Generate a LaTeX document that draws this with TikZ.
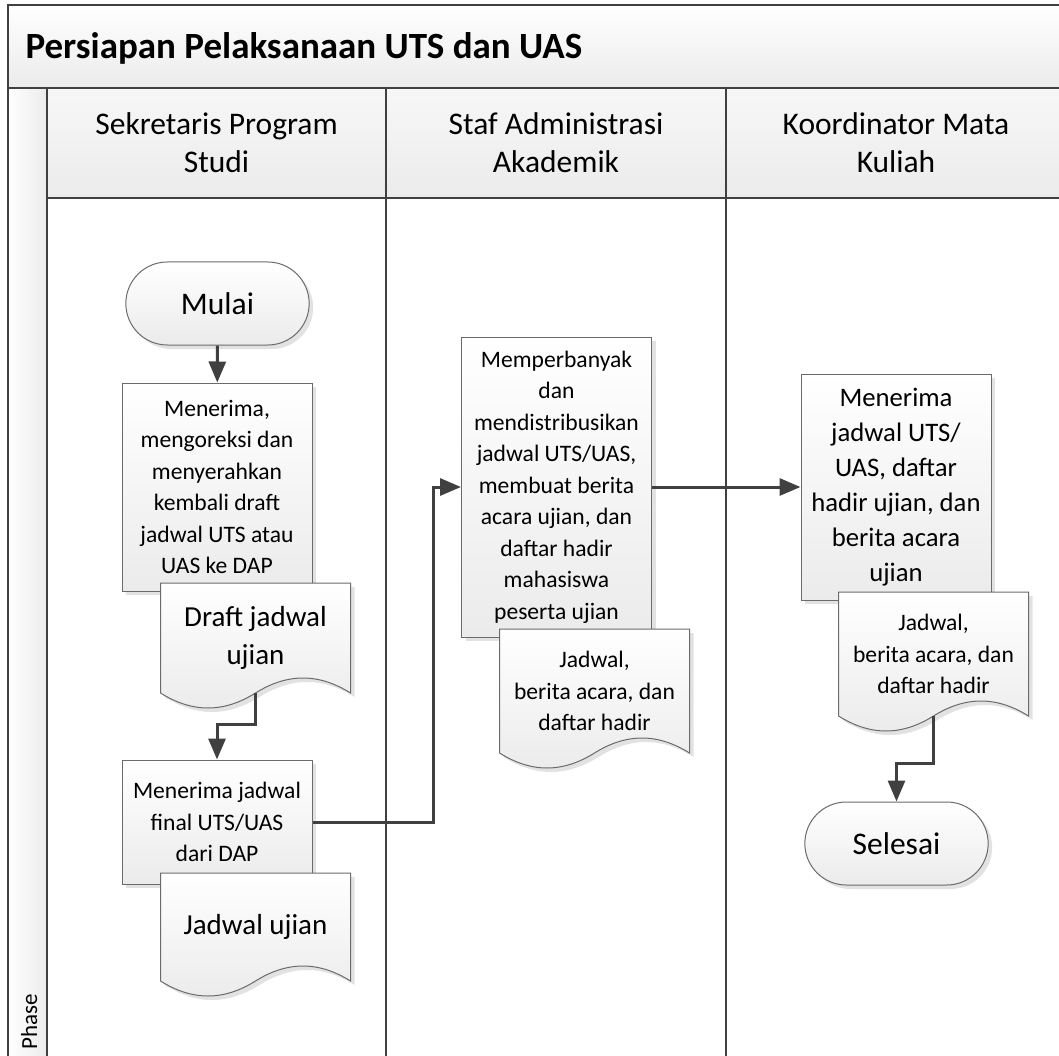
\documentclass[tikz,border=0pt]{standalone}
\usepackage{fontspec}
\setmainfont{Carlito}
\usetikzlibrary{shapes.misc,shadows,arrows.meta}

\definecolor{garis}{HTML}{404040}
\definecolor{tepi}{HTML}{6B6B6B}
\definecolor{abu}{HTML}{EBEBEB}

% dokumen: [opsi], nama, x tengah, y atas, tinggi, teks
\newcommand{\dokumen}[6][]{%
  \path[dokbg] (#3-95,#4) -- (#3+95,#4) -- (#3+95,#4+#5)
    .. controls (#3+63,#4+#5-20) and (#3+32,#4+#5-20) .. (#3,#4+#5)
    .. controls (#3-32,#4+#5+20) and (#3-63,#4+#5+20) .. (#3-95,#4+#5) -- cycle;
  \node[doktext, minimum height=#5pt, #1] (#2) at (#3,#4+#5/2) {#6};}

\begin{document}
\begin{tikzpicture}[x=1pt, y=-1pt,
  bayang/.style={drop shadow={shadow xshift=4pt, shadow yshift=-4pt, fill=black!25, opacity=0.45}},
  bingkai/.style={draw=garis, line width=2.5pt},
  lajur/.style={align=center, font=\fontsize{31.5}{38}\selectfont},
  proses/.style={rectangle, draw=tepi, line width=1pt, top color=white, bottom color=abu,
    bayang, minimum width=190pt, inner sep=2pt, align=center,
    font=\fontsize{23.6}{31.5}\selectfont},
  terminal/.style={rounded rectangle, draw=tepi, line width=1pt, top color=white,
    bottom color=abu, bayang, minimum width=190pt, minimum height=83pt,
    font=\fontsize{31.5}{38}\selectfont},
  dokbg/.style={draw=tepi, line width=1pt, top color=white, bottom color=abu, bayang},
  doktext/.style={minimum width=190pt, inner sep=0pt, align=center,
    font=\fontsize{23.6}{31.5}\selectfont},
  dokbesar/.style={font=\fontsize{29}{38}\selectfont},
  panah/.style={draw=garis, line width=3pt, -{Triangle[length=21pt,width=17pt]}}]

  \useasboundingbox (0,0) rectangle (1059,1056);
  \clip (0,0) rectangle (1059,1056);

  \fill[top color=white, bottom color=abu] (8,5) rectangle (1066,88);
  \fill[left color=white, right color=abu] (8,88) rectangle (47,1070);
  \foreach \a/\b in {47/386, 386/726, 726/1066}
    \fill[top color=white!60!abu, bottom color=abu] (\a,88) rectangle (\b,198);

  \draw[bingkai] (8,5) rectangle (1066,1070);
  \draw[bingkai] (8,88) -- (1066,88);
  \draw[bingkai] (47,88) -- (47,1070);
  \draw[bingkai] (47,198) -- (1066,198);
  \foreach \x in {386,726}
    \draw[bingkai] (\x,88) -- (\x,1070);

  \node[anchor=base west, font=\bfseries\fontsize{37}{44}\selectfont] (judul) at (22,59)
    {Persiapan Pelaksanaan UTS dan UAS};
  \node[rotate=90, anchor=base west, font=\fontsize{23}{28}\selectfont] (fase) at (37,1053) {Phase};

  \node[lajur] (lajur1) at (216.5,143) {Sekretaris Program\\Studi};
  \node[lajur] (lajur2) at (556,143) {Staf Administrasi\\Akademik};
  \node[lajur] (lajur3) at (896,143) {Koordinator Mata\\Kuliah};

  \node[terminal] (mulai) at (217.5,303.5) {Mulai};
  \node[proses, minimum height=208pt] (koreksi) at (217,487)
    {Menerima,\\mengoreksi dan\\menyerahkan\\kembali draft\\jadwal UTS atau\\UAS ke DAP};
  \dokumen[dokbesar]{draft}{255.5}{583}{110}{Draft jadwal\\ujian}
  \node[proses, minimum height=124pt] (final) at (217,822)
    {Menerima jadwal\\final UTS/UAS\\dari DAP};
  \dokumen[dokbesar]{jadwal}{255.5}{873}{108}{Jadwal ujian}

  \node[proses, minimum height=300pt] (perbanyak) at (556.5,487)
    {Memperbanyak\\dan\\mendistribusikan\\jadwal UTS/UAS,\\membuat berita\\acara ujian, dan\\daftar hadir\\mahasiswa\\peserta ujian};
  \dokumen{berkas1}{594.5}{629}{124}{Jadwal,\\berita acara, dan\\daftar hadir}

  \node[proses, minimum height=226pt, font=\fontsize{26.7}{35}\selectfont] (terima) at (896,487)
    {Menerima\\jadwal UTS/\\UAS, daftar\\hadir ujian, dan\\berita acara\\ujian};
  \dokumen{berkas2}{933.5}{592}{124}{Jadwal,\\berita acara, dan\\daftar hadir}
  \node[terminal] (selesai) at (896.5,843.5) {Selesai};

  \draw[panah] (mulai) -- (koreksi);
  \draw[panah] (draft.south) -- ++(0,31) -| (final.north);
  \draw[panah] (final.east) -- ++(121,0) |- (perbanyak.west);
  \draw[panah] (perbanyak) -- (terima);
  \draw[panah] (berkas2.south) -- ++(0,47) -| (selesai.north);
\end{tikzpicture}
\end{document}
